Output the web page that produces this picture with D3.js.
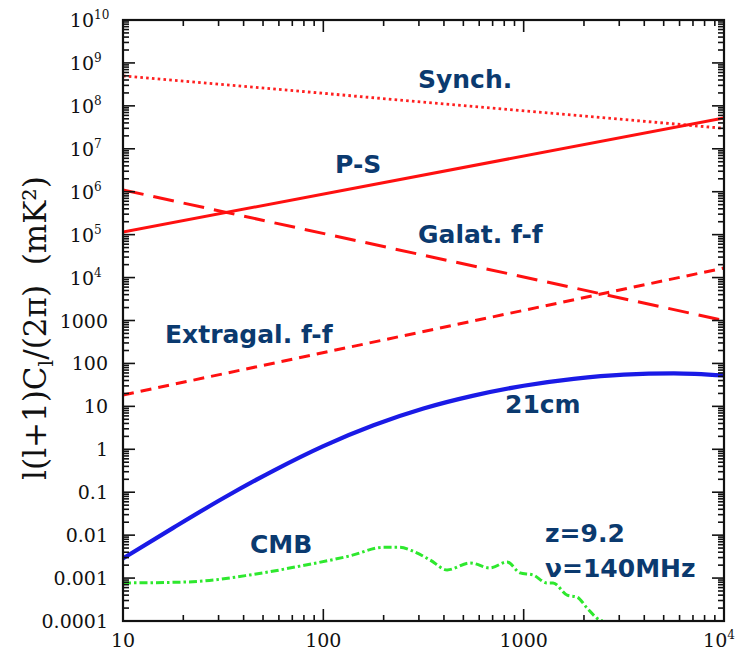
<!DOCTYPE html>
<html><head><meta charset="utf-8">
<script src="https://cdn.jsdelivr.net/npm/d3@7"></script>
<style>
html,body{margin:0;padding:0;background:#fff;}
svg{display:block;}
</style></head>
<body>
<svg id="chart" width="739" height="652"></svg>
<script>
// ---- data ----
const ellEnds = [10, 10000];
const synchVals = [5e8, 3e7];
const psVals = [1.15e5, 5.2e7];
const galffVals = [1.1e6, 1000];
const extffVals = [18.4, 1.67e4];

const ell21 = [10, 17.8, 31.6, 56.2, 100, 178, 316, 562, 1000, 1778, 3162, 5623, 10000];
const val21 = [0.00288, 0.0148, 0.0724, 0.316, 1.19, 3.63, 8.91, 17.8, 30.2, 43.7, 55.0, 58.9, 52.5];

const ellCMB = [10, 20.9, 43, 76.5, 136, 200, 240, 281, 341, 415, 540, 679, 826, 959, 1114, 1309, 1403, 1648, 1849, 2072, 2404, 2480];
const valCMB = [0.00077, 0.00081, 0.00118, 0.0019, 0.0033, 0.0052, 0.0052, 0.0042, 0.00264, 0.00155, 0.00225, 0.00172, 0.00237, 0.00132, 0.00118, 0.00077, 0.00077, 0.00040, 0.00036, 0.00020, 0.000105, 0.0001];

const xTickVals = [10, 100, 1000, 10000];
const xTickLabels = [["10",""], ["100",""], ["1000",""], ["10","4"]];
const yTickVals = [1e10,1e9,1e8,1e7,1e6,1e5,1e4,1000,100,10,1,0.1,0.01,0.001,0.0001];
const yTickLabels = [["10","10"],["10","9"],["10","8"],["10","7"],["10","6"],["10","5"],["10","4"],
  ["1000",""],["100",""],["10",""],["1",""],["0.1",""],["0.01",""],["0.001",""],["0.0001",""]];

const labels = [
  {t:"Synch.", x:418, y:88},
  {t:"P-S", x:335, y:173},
  {t:"Galat. f-f", x:418, y:243},
  {t:"Extragal. f-f", x:165, y:343},
  {t:"21cm", x:505, y:413},
  {t:"CMB", x:250, y:553},
  {t:"z=9.2", x:545, y:542},
  {t:"\u03bd=140MHz", x:545, y:577}
];

// ---- layout ----
const L = 123, R = 724, T = 20, B = 621;
const svg = d3.select("#chart");
const x = d3.scaleLog().domain([10, 10000]).range([L, R]);
const y = d3.scaleLog().domain([1e-4, 1e10]).range([B, T]);

const lineGen = d3.line().x(d => x(d[0])).y(d => y(d[1]));
const curveGen = d3.line().x(d => x(d[0])).y(d => y(d[1])).curve(d3.curveMonotoneX);

svg.append("clipPath").attr("id","clip").append("rect")
  .attr("x", L).attr("y", T).attr("width", R-L).attr("height", B-T);
const g = svg.append("g").attr("clip-path","url(#clip)");

function addLine(xs, vs, color, width, dash, gen) {
  g.append("path").datum(xs.map((v,i)=>[v, vs[i]]))
    .attr("d", gen || lineGen).attr("fill","none")
    .attr("stroke", color).attr("stroke-width", width)
    .attr("stroke-dasharray", dash || null);
}
addLine(ellEnds, synchVals, "#ff2020", 2.8, "2.6,3.2");
addLine(ellEnds, psVals, "#ff1010", 3, null);
addLine(ellEnds, galffVals, "#ff1010", 3, "21,10");
addLine(ellEnds, extffVals, "#ff1010", 3, "11,7");
addLine(ell21, val21, "#1a1ae6", 4.2, null, curveGen);
addLine(ellCMB, valCMB, "#2ee82e", 3, "8,3,2.5,3", curveGen);

// ---- frame and ticks ----
const minorX = [];
for (let d = 10; d < 10000; d *= 10) for (let k = 2; k <= 9; k++) minorX.push(d*k);
const minorY = [];
for (let e = -4; e < 10; e++) for (let k = 2; k <= 9; k++) minorY.push(k*Math.pow(10,e));

const axG = svg.append("g").attr("stroke","#111").attr("stroke-width",1.6);
const majLen = 12, minLen = 6;
xTickVals.forEach(v => {
  axG.append("line").attr("x1",x(v)).attr("x2",x(v)).attr("y1",B).attr("y2",B-majLen);
  axG.append("line").attr("x1",x(v)).attr("x2",x(v)).attr("y1",T).attr("y2",T+majLen);
});
minorX.forEach(v => {
  axG.append("line").attr("x1",x(v)).attr("x2",x(v)).attr("y1",B).attr("y2",B-minLen);
  axG.append("line").attr("x1",x(v)).attr("x2",x(v)).attr("y1",T).attr("y2",T+minLen);
});
yTickVals.forEach(v => {
  axG.append("line").attr("y1",y(v)).attr("y2",y(v)).attr("x1",L).attr("x2",L+majLen);
  axG.append("line").attr("y1",y(v)).attr("y2",y(v)).attr("x1",R).attr("x2",R-majLen);
});
minorY.forEach(v => {
  axG.append("line").attr("y1",y(v)).attr("y2",y(v)).attr("x1",L).attr("x2",L+minLen);
  axG.append("line").attr("y1",y(v)).attr("y2",y(v)).attr("x1",R).attr("x2",R-minLen);
});
svg.append("rect").attr("x",L).attr("y",T).attr("width",R-L).attr("height",B-T)
  .attr("fill","none").attr("stroke","#111").attr("stroke-width",2.2);

// ---- tick labels ----
const serif = "'DejaVu Serif', serif";
yTickVals.forEach((v,i) => {
  const lab = yTickLabels[i];
  const t = svg.append("text").attr("x", lab[1] ? 94 : 108).attr("y", y(v)+7)
    .attr("text-anchor","end").attr("font-family",serif).attr("font-size",19).attr("fill","#111")
    .text(lab[0]);
  if (lab[1]) {
    svg.append("text").attr("x", 94).attr("y", y(v)-1).attr("font-family",serif)
      .attr("font-size",12).attr("fill","#111").text(lab[1]);
  }
});
xTickVals.forEach((v,i) => {
  const lab = xTickLabels[i];
  const t = svg.append("text").attr("x", x(v) + (lab[1]? -5:0)).attr("y", 647)
    .attr("text-anchor","middle").attr("font-family",serif).attr("font-size",19).attr("fill","#111");
  t.append("tspan").text(lab[0]);
  if (lab[1]) t.append("tspan").attr("dy",-8).attr("font-size",12).text(lab[1]);
});

// ---- axis title ----
const yt = svg.append("text").attr("transform","translate(46,328) rotate(-90)")
  .attr("text-anchor","middle").attr("font-family",serif).attr("font-size",31).attr("fill","#111");
yt.append("tspan").text("l(l+1)C");
yt.append("tspan").attr("dy",7).attr("font-size",21).text("l");
yt.append("tspan").attr("dy",-7).text("/(2\u03c0)\u00a0\u00a0(mK\u00b2)");

// ---- labels ----
svg.append("g").selectAll("text").data(labels).join("text")
  .attr("x", d=>d.x).attr("y", d=>d.y).text(d=>d.t)
  .attr("font-family","'DejaVu Sans', Verdana, sans-serif").attr("font-weight","bold")
  .attr("font-size",25).attr("fill","#0b3a6f");
</script>
</body></html>
